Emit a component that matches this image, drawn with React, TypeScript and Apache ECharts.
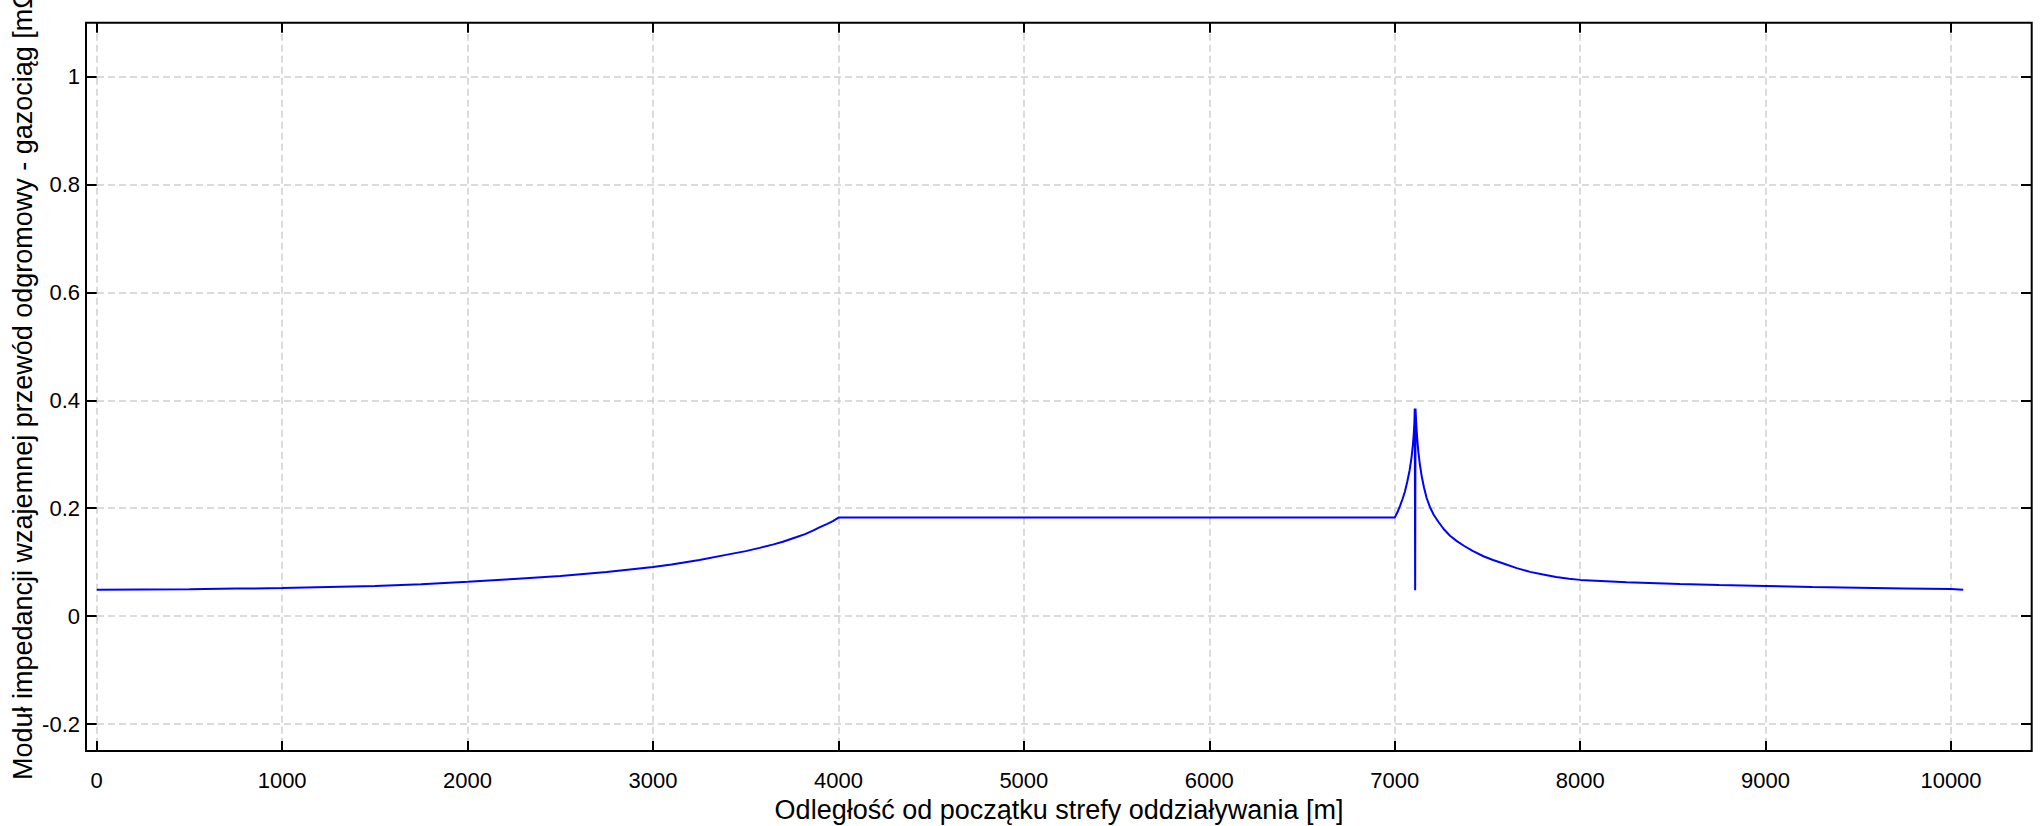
import React, { useEffect, useRef } from "react";
import * as echarts from "echarts";

// Distance from start of the influence zone [m]
const distance: number[] = [
  0, 250, 500, 750, 1000, 1250, 1500, 1750, 2000, 2250, 2500, 2750, 3000, 3100,
  3250, 3400, 3500, 3575, 3650, 3700, 3775, 3820, 3865, 3900, 3940, 3970, 4000,
  7000, 7015, 7029, 7043, 7055, 7068, 7080, 7090, 7098, 7103, 7106, 7108, 7110,
  7112, 7116, 7121, 7127, 7136, 7145, 7158, 7172, 7190, 7210, 7235, 7265, 7298,
  7335, 7375, 7420, 7478, 7530, 7590, 7658, 7730, 7800, 7870, 7940, 8000, 8250,
  8538, 8750, 9000, 9250, 9500, 9750, 10000, 10066,
];

// Mutual impedance modulus [mΩ]
const impedance: number[] = [
  0.049, 0.0495, 0.05, 0.051, 0.052, 0.054, 0.0557, 0.059, 0.0635, 0.069,
  0.0745, 0.082, 0.091, 0.0955, 0.104, 0.114, 0.1205, 0.1265, 0.133, 0.138,
  0.1467, 0.152, 0.159, 0.165, 0.171, 0.176, 0.1827,
  0.1827, 0.193, 0.205, 0.218, 0.231, 0.25, 0.27, 0.293, 0.318, 0.34, 0.36,
  0.385, 0.048, 0.385, 0.355, 0.33, 0.305, 0.28, 0.26, 0.238, 0.219, 0.202,
  0.188, 0.175, 0.161, 0.149, 0.139, 0.13, 0.121, 0.111, 0.104, 0.097, 0.089,
  0.082, 0.077, 0.0725, 0.0693, 0.0672, 0.063, 0.0594, 0.0575, 0.0557, 0.054,
  0.0527, 0.0513, 0.0501, 0.049,
];

const xTitle = "Odległość od początku strefy oddziaływania [m]";
const yTitle = "Moduł impedancji wzajemnej przewód odgromowy - gazociąg [mΩ]";

const xTickMin = 0;
const xTickMax = 10000;
const xTickStep = 1000;
const yTickMin = -0.2;
const yTickMax = 1;
const yTickStep = 0.2;

const FONT = "'Liberation Sans', Arial, Helvetica, sans-serif";

export default function App() {
  const ref = useRef<HTMLDivElement>(null);

  useEffect(() => {
    document.body.style.margin = "0";
    const chart = echarts.init(ref.current!, null, { renderer: "svg" });
    const gridLine = { color: "#cfcfcf", width: 1.5, type: [7, 4] as any };
    const tick = { show: true, inside: true, length: 10, lineStyle: { color: "#000", width: 2 } };
    const label = { fontSize: 22, color: "#000", fontFamily: FONT };

    chart.setOption({
      animation: false,
      backgroundColor: "#fff",
      grid: [
        { left: 86, right: 10.3, top: 22.7, bottom: 75, show: true, borderColor: "#000", borderWidth: 2, backgroundColor: "rgba(0,0,0,0)", z: 10 },
        { left: 96.7, right: 91, top: 22.7, bottom: 75 },
        { left: 86, right: 10.3, top: 76.7, bottom: 102 },
      ],
      xAxis: [
        { gridIndex: 0, type: "value", min: -58, max: 10435, show: false },
        {
          gridIndex: 1, type: "value", position: "bottom", min: xTickMin, max: xTickMax, interval: xTickStep,
          axisLine: { show: false }, axisTick: tick,
          axisLabel: { ...label, margin: 18, formatter: (v: number) => String(v) },
          splitLine: { show: true, lineStyle: gridLine },
        },
        {
          gridIndex: 1, type: "value", position: "top", min: xTickMin, max: xTickMax, interval: xTickStep,
          axisLine: { show: false }, axisTick: tick, axisLabel: { show: false }, splitLine: { show: false },
        },
        { gridIndex: 2, type: "value", min: 0, max: 1, show: false },
      ],
      yAxis: [
        { gridIndex: 0, type: "value", min: -0.25, max: 1.1, show: false },
        { gridIndex: 1, type: "value", min: 0, max: 1, show: false },
        {
          gridIndex: 2, type: "value", position: "left", min: yTickMin, max: yTickMax, interval: yTickStep,
          axisLine: { show: false }, axisTick: { ...tick, length: 10.7 },
          axisLabel: { ...label, margin: 6, formatter: (v: number) => String(+v.toFixed(1)) },
          splitLine: { show: true, lineStyle: gridLine },
        },
        {
          gridIndex: 2, type: "value", position: "right", min: yTickMin, max: yTickMax, interval: yTickStep,
          axisLine: { show: false }, axisTick: { ...tick, length: 10.7 }, axisLabel: { show: false }, splitLine: { show: false },
        },
      ],
      series: [
        {
          type: "line",
          xAxisIndex: 0,
          yAxisIndex: 0,
          data: distance.map((d, i) => [d, impedance[i]]),
          showSymbol: false,
          symbol: "none",
          lineStyle: { color: "#0000ff", width: 2 },
          itemStyle: { color: "#0000ff" },
          z: 5,
        },
      ],
      graphic: [
        {
          type: "text",
          x: 1059,
          y: 810,
          style: { text: xTitle, fontSize: 27, fontFamily: FONT, fill: "#000", align: "center", verticalAlign: "middle" },
        },
        {
          type: "text",
          x: 23,
          y: 780,
          rotation: Math.PI / 2,
          style: { text: yTitle, fontSize: 27, fontFamily: FONT, fill: "#000", align: "left", verticalAlign: "middle" },
        },
      ],
    });
    return () => chart.dispose();
  }, []);

  return <div ref={ref} style={{ position: "fixed", left: 0, top: 0, width: 2042, height: 826 }} />;
}
